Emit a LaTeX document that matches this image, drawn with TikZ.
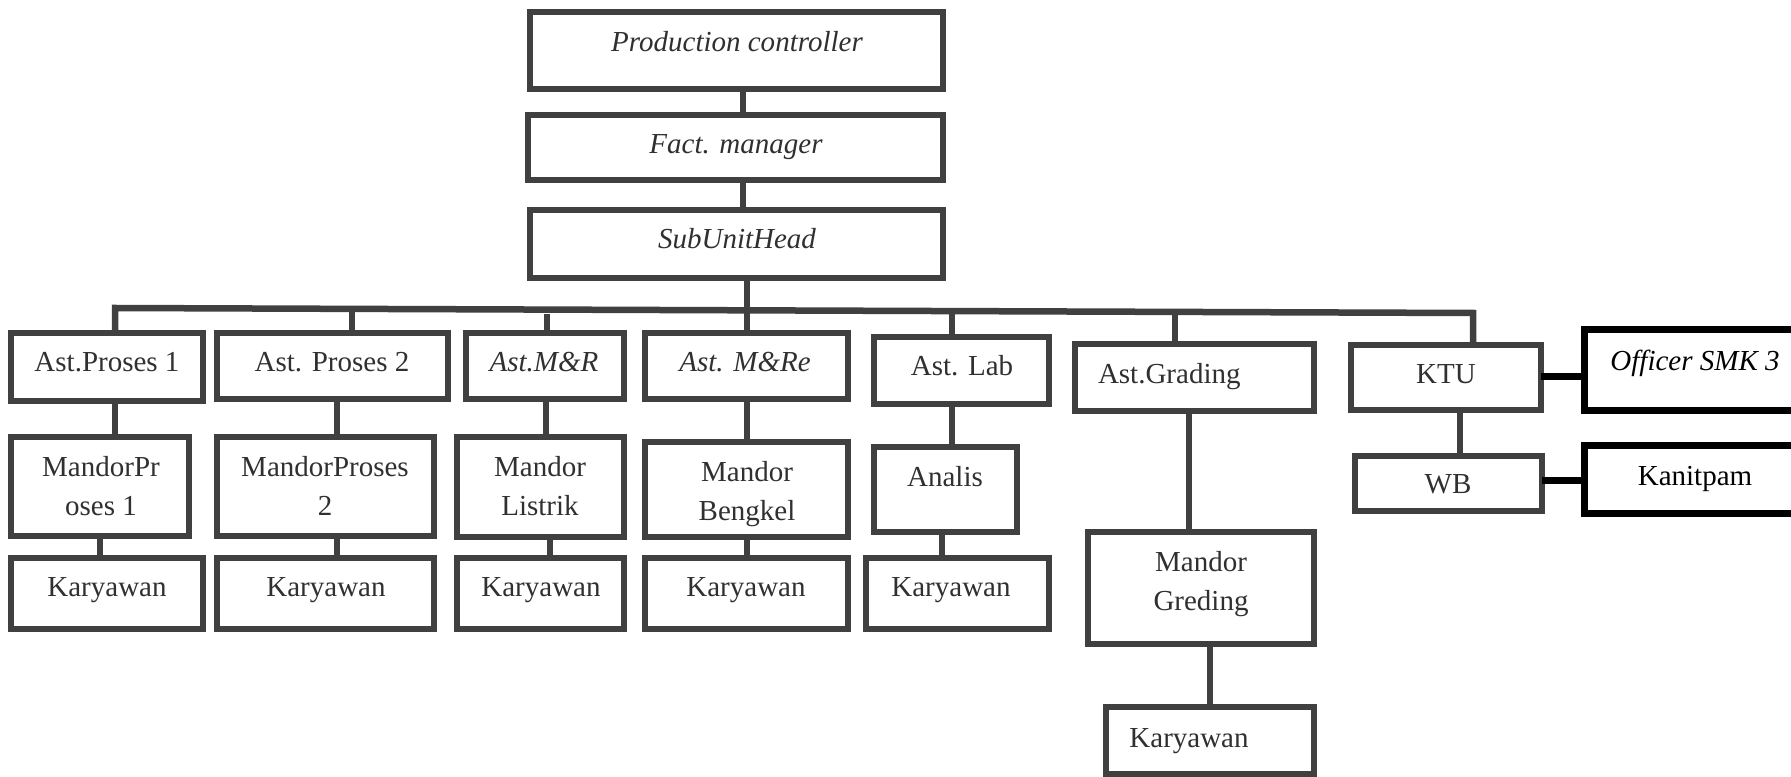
\documentclass[tikz,border=0pt]{standalone}
\usepackage{fontspec}
\setmainfont{Liberation Serif}
\definecolor{lc}{RGB}{64,64,64}
\definecolor{tc}{RGB}{48,48,48}
\tikzset{
  box/.style={draw=lc, line width=2.6pt, inner sep=0pt, outer sep=0pt, fill=white},
  bbox/.style={draw=black, line width=2.8pt, inner sep=0pt, outer sep=0pt, fill=white},
  conn/.style={draw=lc, line width=2.6pt, line join=miter},
  bconn/.style={draw=black, line width=2.8pt},
  lbl/.style={inner sep=0pt, outer sep=0pt, anchor=base, text=tc, align=center,
    font=\fontsize{11.6}{15.6}\selectfont},
  blbl/.style={lbl, text=black}
}
\newcommand{\orgbox}[6][box]{%
  \node[#1, minimum width={(#5-#3)*0.4pt}, minimum height={(#6-#4)*0.4pt}] (#2) at ({(#3+#5)/2},{(#4+#6)/2}) {};}
\begin{document}
\begin{tikzpicture}[x=0.4pt, y=-0.4pt]
\useasboundingbox (0,0) rectangle (1791,777);
\clip (0,0) rectangle (1791,777);
\fill[white] (0,0) rectangle (1791,777);
% boxes (centerline coordinates, px)
\orgbox{pc}{530}{12}{943}{89}
\orgbox{fm}{528}{115}{943}{180}
\orgbox{suh}{530}{210}{943}{278}
\orgbox{ap1}{11}{333}{203}{401}
\orgbox{ap2}{217}{333}{448}{399}
\orgbox{amr}{466}{333}{624}{399}
\orgbox{amre}{645}{333}{848}{399}
\orgbox{alab}{874}{337}{1049}{404}
\orgbox{agr}{1075}{344}{1314}{411}
\orgbox{ktu}{1351}{345}{1541}{410}
\orgbox[bbox]{off}{1584}{330}{1812}{411}
\orgbox{mp1}{11}{437}{189}{536}
\orgbox{mp2}{217}{437}{434}{536}
\orgbox{ml}{457}{437}{624}{537}
\orgbox{mb}{645}{442}{848}{537}
\orgbox{an}{874}{447}{1017}{532}
\orgbox{mg}{1088}{532}{1314}{644}
\orgbox{wb}{1355}{456}{1542}{511}
\orgbox[bbox]{kan}{1584}{446}{1812}{514}
\orgbox{ka}{11}{558}{203}{629}
\orgbox{kb}{217}{558}{434}{629}
\orgbox{kc}{457}{558}{624}{629}
\orgbox{kd}{645}{558}{848}{629}
\orgbox{ke}{866}{558}{1049}{629}
\orgbox{kg}{1106}{707}{1314}{774}
% connector coordinates
\coordinate (cA) at (743,0);
\coordinate (cB) at (747,0);
\coordinate (busL) at (115,308);
\coordinate (busR) at (1473,313);
\coordinate (d2) at (352,309);
\coordinate (d3) at (547,314);
\coordinate (d5) at (952,311);
\coordinate (d6) at (1175,312);
\coordinate (x1a) at (115,0);
\coordinate (x1b) at (100,0);
\coordinate (x2) at (337,0);
\coordinate (x3a) at (546,0);
\coordinate (x3b) at (550,0);
\coordinate (x5a) at (952,0);
\coordinate (x5b) at (942,0);
\coordinate (x6a) at (1189,0);
\coordinate (x6b) at (1210,0);
\coordinate (x7) at (1460,0);
\coordinate (yo) at (0,377);
\coordinate (yk) at (0,481);
% connectors
\draw[conn] (pc.south -| cA) -- (fm.north -| cA);
\draw[conn] (fm.south -| cA) -- (suh.north -| cA);
\draw[conn] (suh.south -| cB) -- (amre.north -| cB);
\draw[conn] (ap1.north -| busL) -- (busL) -- (busR) -- (ktu.north -| busR);
\draw[conn] (d2) -- (ap2.north -| d2);
\draw[conn] (d3) -- (amr.north -| d3);
\draw[conn] (d5) -- (alab.north -| d5);
\draw[conn] (d6) -- (agr.north -| d6);
\draw[conn] (ap1.south -| x1a) -- (mp1.north -| x1a);
\draw[conn] (mp1.south -| x1b) -- (ka.north -| x1b);
\draw[conn] (ap2.south -| x2) -- (mp2.north -| x2);
\draw[conn] (mp2.south -| x2) -- (kb.north -| x2);
\draw[conn] (amr.south -| x3a) -- (ml.north -| x3a);
\draw[conn] (ml.south -| x3b) -- (kc.north -| x3b);
\draw[conn] (amre.south -| cB) -- (mb.north -| cB);
\draw[conn] (mb.south -| cB) -- (kd.north -| cB);
\draw[conn] (alab.south -| x5a) -- (an.north -| x5a);
\draw[conn] (an.south -| x5b) -- (ke.north -| x5b);
\draw[conn] (agr.south -| x6a) -- (mg.north -| x6a);
\draw[conn] (mg.south -| x6b) -- (kg.north -| x6b);
\draw[conn] (ktu.south -| x7) -- (wb.north -| x7);
\draw[bconn] (ktu.east |- yo) -- (off.west |- yo);
\draw[bconn] (wb.east |- yk) -- (kan.west |- yk);
% labels (anchor = baseline of the last line)
\node[lbl] (pct) at (737,52) {\itshape Production controller};
\node[lbl] (fmt) at (736,154) {\itshape Fact. manager};
\node[lbl] (suht) at (737,249) {\itshape SubUnitHead};
\node[lbl] (ap1t) at (107,372) {Ast.Proses 1};
\node[lbl] (ap2t) at (332,372) {Ast. Proses 2};
\node[lbl] (amrt) at (544,372) {\itshape Ast.M\&R};
\node[lbl] (amret) at (745,372) {\itshape Ast. M\&Re};
\node[lbl] (alabt) at (962,376) {Ast. Lab};
\node[lbl, anchor=base west] (agrt) at (1098,384) {Ast.Grading};
\node[lbl] (ktut) at (1446,384) {KTU};
\node[blbl] (offt) at (1695,371) {\itshape Officer SMK 3};
\node[lbl] (mp1t) at (101,516) {MandorPr\\oses 1};
\node[lbl] (mp2t) at (325,516) {MandorProses\\2};
\node[lbl] (mlt) at (540,516) {Mandor\\Listrik};
\node[lbl] (mbt) at (747,521) {Mandor\\Bengkel};
\node[lbl] (ant) at (945,487) {Analis};
\node[lbl] (mgt) at (1201,611) {Mandor\\Greding};
\node[lbl] (wbt) at (1448,494) {WB};
\node[blbl] (kant) at (1695,486) {Kanitpam};
\node[lbl] (kat) at (107,597) {Karyawan};
\node[lbl] (kbt) at (326,597) {Karyawan};
\node[lbl] (kct) at (541,597) {Karyawan};
\node[lbl] (kdt) at (746,597) {Karyawan};
\node[lbl] (ket) at (951,597) {Karyawan};
\node[lbl] (kgt) at (1189,747) {Karyawan};
\end{tikzpicture}
\end{document}
